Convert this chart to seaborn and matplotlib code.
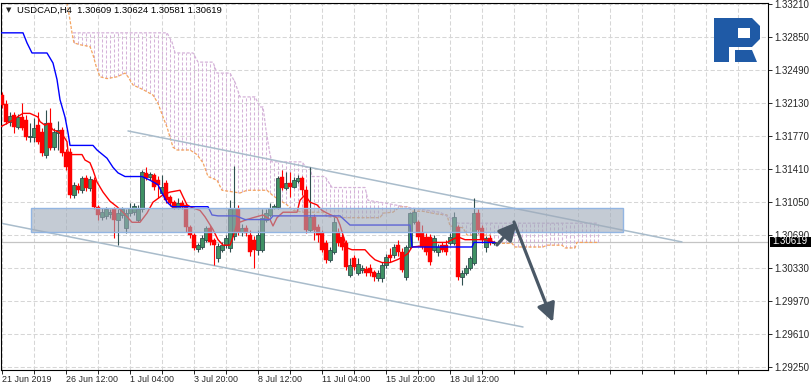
import numpy as np
import pandas as pd
import matplotlib
matplotlib.use("Agg")
import matplotlib.pyplot as plt
import matplotlib.transforms as mtransforms
from matplotlib.patches import Rectangle, Polygon, FancyArrowPatch
from matplotlib.ticker import MultipleLocator
import seaborn as sns

sns.set_style("white")
plt.rcParams["font.family"] = ["Liberation Sans", "DejaVu Sans"]
plt.rcParams["lines.scale_dashes"] = False

# ---------------- data ----------------
opens = [1.3222, 1.3212, 1.3193, 1.3200, 1.3187, 1.3198, 1.3195, 1.3176, 1.3176, 1.3189,
         1.3182, 1.3157, 1.3192, 1.3165, 1.3181, 1.3184, 1.3160, 1.3160, 1.3113, 1.3123,
         1.3118, 1.3131, 1.3121, 1.3129, 1.3100, 1.3089, 1.3090, 1.3092, 1.3097, 1.3086,
         1.3091, 1.3077, 1.3093, 1.3094, 1.3086, 1.3097, 1.3137, 1.3133, 1.3135, 1.3129,
         1.3115, 1.3126, 1.3111, 1.3105, 1.3099, 1.3104, 1.3102, 1.3078, 1.3069, 1.3054,
         1.3056, 1.3064, 1.3077, 1.3064, 1.3044, 1.3053, 1.3058, 1.3055, 1.3068, 1.3097,
         1.3072, 1.3077, 1.3069, 1.3064, 1.3053, 1.3053, 1.3086, 1.3091, 1.3099, 1.3100,
         1.3133, 1.3121, 1.3126, 1.3122, 1.3128, 1.3131, 1.3118, 1.3075, 1.3089, 1.3078,
         1.3071, 1.3060, 1.3042, 1.3051, 1.3072, 1.3067, 1.3060, 1.3025, 1.3044, 1.3028,
         1.3031, 1.3032, 1.3033, 1.3029, 1.3022, 1.3022, 1.3036, 1.3047, 1.3047, 1.3058,
         1.3051, 1.3023, 1.3056, 1.3083, 1.3083, 1.3071, 1.3067, 1.3067, 1.3053, 1.3050,
         1.3058, 1.3058, 1.3060, 1.3060, 1.3078, 1.3023, 1.3028, 1.3033, 1.3039, 1.3093,
         1.3077, 1.3056, 1.3066, 1.30609]
highs = [1.3225, 1.3217, 1.3204, 1.3204, 1.3201, 1.3213, 1.3200, 1.3192, 1.3197, 1.3204,
         1.3186, 1.3206, 1.3208, 1.3186, 1.3194, 1.3187, 1.3163, 1.3164, 1.3127, 1.3126,
         1.3134, 1.3135, 1.3134, 1.3133, 1.3102, 1.3099, 1.3100, 1.3098, 1.3100, 1.3097,
         1.3100, 1.3097, 1.3104, 1.3104, 1.3102, 1.3140, 1.3143, 1.3138, 1.3137, 1.3134,
         1.3135, 1.3129, 1.3113, 1.3107, 1.3110, 1.3107, 1.3104, 1.3080, 1.3071, 1.3060,
         1.3069, 1.3079, 1.3080, 1.3066, 1.3060, 1.3062, 1.3069, 1.3107, 1.3145, 1.3102,
         1.3081, 1.3080, 1.3075, 1.3068, 1.3075, 1.3097, 1.3097, 1.3104, 1.3103, 1.3134,
         1.3140, 1.3138, 1.3138, 1.3133, 1.3135, 1.3134, 1.3123, 1.3143, 1.3092, 1.3081,
         1.3075, 1.3064, 1.3056, 1.3089, 1.3077, 1.3070, 1.3064, 1.3044, 1.3047, 1.3044,
         1.3036, 1.3035, 1.3037, 1.3031, 1.3031, 1.3040, 1.3048, 1.3055, 1.3059, 1.3064,
         1.3055, 1.3058, 1.3094, 1.3099, 1.3086, 1.3080, 1.3071, 1.3070, 1.3069, 1.3059,
         1.3062, 1.3064, 1.3071, 1.3094, 1.3080, 1.3031, 1.3036, 1.3046, 1.3110, 1.3097,
         1.3080, 1.3068, 1.3069, 1.30624]
lows = [1.3208, 1.3190, 1.3188, 1.3181, 1.3185, 1.3184, 1.3173, 1.3171, 1.3171, 1.3169,
        1.3155, 1.3153, 1.3162, 1.3162, 1.3162, 1.3155, 1.3140, 1.3110, 1.3110, 1.3115,
        1.3115, 1.3117, 1.3117, 1.3097, 1.3086, 1.3086, 1.3087, 1.3088, 1.3066, 1.3058,
        1.3088, 1.3071, 1.3090, 1.3091, 1.3083, 1.3094, 1.3129, 1.3129, 1.3118, 1.3110,
        1.3113, 1.3104, 1.3101, 1.3097, 1.3097, 1.3097, 1.3072, 1.3066, 1.3053, 1.3051,
        1.3054, 1.3062, 1.3058, 1.3036, 1.3040, 1.3051, 1.3055, 1.3051, 1.3064, 1.3069,
        1.3068, 1.3068, 1.3046, 1.3033, 1.3047, 1.3051, 1.3083, 1.3089, 1.3097, 1.3098,
        1.3118, 1.3118, 1.3111, 1.3120, 1.3126, 1.3113, 1.3071, 1.3072, 1.3064, 1.3062,
        1.3050, 1.3039, 1.3040, 1.3048, 1.3057, 1.3053, 1.3031, 1.3023, 1.3031, 1.3025,
        1.3028, 1.3024, 1.3024, 1.3019, 1.3019, 1.3018, 1.3033, 1.3040, 1.3044, 1.3046,
        1.3029, 1.3020, 1.3054, 1.3081, 1.3064, 1.3054, 1.3047, 1.3036, 1.3051, 1.3046,
        1.3050, 1.3047, 1.3058, 1.3058, 1.3020, 1.3015, 1.3025, 1.3031, 1.3036, 1.3071,
        1.3060, 1.3051, 1.3058, 1.30581]
closes = [1.3211, 1.3193, 1.3199, 1.3187, 1.3198, 1.3186, 1.3176, 1.3177, 1.3186, 1.3171,
          1.3159, 1.3192, 1.3164, 1.3182, 1.3184, 1.3159, 1.3143, 1.3113, 1.3124, 1.3118,
          1.3131, 1.3121, 1.3130, 1.3100, 1.3091, 1.3094, 1.3097, 1.3094, 1.3086, 1.3093,
          1.3097, 1.3093, 1.3099, 1.3101, 1.3097, 1.3138, 1.3131, 1.3136, 1.3122, 1.3124,
          1.3122, 1.3107, 1.3104, 1.3099, 1.3104, 1.3100, 1.3078, 1.3069, 1.3055, 1.3058,
          1.3066, 1.3077, 1.3062, 1.3058, 1.3057, 1.3058, 1.3066, 1.3097, 1.3099, 1.3072,
          1.3077, 1.3071, 1.3050, 1.3053, 1.3069, 1.3088, 1.3093, 1.3099, 1.3101, 1.3131,
          1.3121, 1.3126, 1.3122, 1.3129, 1.3131, 1.3118, 1.3075, 1.3089, 1.3075, 1.3069,
          1.3053, 1.3042, 1.3053, 1.3083, 1.3060, 1.3056, 1.3034, 1.3036, 1.3034, 1.3037,
          1.3033, 1.3028, 1.3028, 1.3023, 1.3028, 1.3036, 1.3045, 1.3044, 1.3056, 1.3051,
          1.3031, 1.3056, 1.3093, 1.3094, 1.3067, 1.3056, 1.3051, 1.3040, 1.3066, 1.3056,
          1.3053, 1.3050, 1.3067, 1.3089, 1.3023, 1.3028, 1.3033, 1.3044, 1.3093, 1.3075,
          1.3064, 1.3066, 1.3060, 1.30619]

# Ichimoku lines (bar index, price) read at their break points
tenkan_x = [-0.5, 1.25, 2.75, 4.5, 5.25, 7, 9, 9.5, 10.75, 11.5, 12.75, 14, 15.25, 16.25, 16.5,
            17.5, 20, 20.75, 22, 22.75, 23.75, 25.25, 27, 28.75, 30.25, 32.5, 34.5, 36.25, 37.75,
            40.25, 42, 44.5, 45.25, 46.25, 47.5, 49.5, 50.75, 52.75, 54, 55.25, 57, 57.75, 58.75,
            61.25, 62.75, 65.25, 67, 67.75, 68.75, 70.25, 73.75, 74.5, 75.75, 77, 78.75, 80,
            81.25, 83.75, 84.5, 85.25, 86.25, 87.5, 90.75, 92, 93.25, 95, 97, 98.75, 100.25,
            101.5, 102.5, 107, 107.75, 111.25, 112.5, 114, 115.75, 120.75, 123.25]
tenkan_y = [1.3187, 1.3191, 1.3195, 1.3200, 1.3202, 1.3202, 1.3198, 1.3193, 1.3189, 1.3191,
            1.3184, 1.3182, 1.3178, 1.3171, 1.3160, 1.3157, 1.3157, 1.3151, 1.3148, 1.3140,
            1.3127, 1.3116, 1.3106, 1.3100, 1.3094, 1.3083, 1.3083, 1.3093, 1.3105, 1.3113,
            1.3116, 1.3118, 1.3111, 1.3102, 1.3099, 1.3096, 1.3089, 1.3075, 1.3064, 1.3058,
            1.3058, 1.3067, 1.3082, 1.3086, 1.3088, 1.3091, 1.3086, 1.3079, 1.3088, 1.3094,
            1.3094, 1.3107, 1.3113, 1.3105, 1.3102, 1.3096, 1.3093, 1.3088, 1.3080, 1.3069,
            1.3055, 1.3053, 1.3053, 1.3047, 1.3042, 1.3039, 1.3039, 1.3042, 1.3045, 1.3049,
            1.3056, 1.3058, 1.3061, 1.3061, 1.3064, 1.3067, 1.3064, 1.3064, 1.3061]
kijun_x = [-0.5, 5.25, 6.25, 7.5, 11.25, 12.75, 13.75, 14.5, 15.75, 16.5, 17, 22.75, 23.75,
           26.25, 27.75, 29, 30.75, 35, 37, 39, 40.25, 41.25, 42.5, 51.5, 52.5, 54, 58.5,
           60.75, 67, 67.75, 84.5, 87, 102, 102.5, 117.5, 118, 123.25]
kijun_y = [1.3290, 1.3290, 1.3279, 1.3268, 1.3268, 1.3257, 1.3239, 1.3217, 1.3198, 1.3181,
           1.3167, 1.3167, 1.3162, 1.3153, 1.3143, 1.3137, 1.3133, 1.3133, 1.3129, 1.3124,
           1.3113, 1.3105, 1.3100, 1.3100, 1.3091, 1.3090, 1.3090, 1.3086, 1.3086, 1.3090,
           1.3090, 1.3080, 1.3080, 1.3056, 1.3056, 1.3061, 1.3061]
span_a_x = [16.25, 17, 17.5, 18, 19.5, 22, 22.75, 23.5, 24.5, 26.25, 28.75, 30.75, 31.5, 32.75,
            35.25, 37.75, 39, 40.25, 41.25, 42, 42.75, 43.75, 47, 48.75, 50.25, 51.5, 53.75, 55,
            59.5, 61.25, 66.25, 67.75, 69.5, 71.25, 72.75, 75.25, 80.25, 81.25, 86.25, 94.5,
            95.25, 97.75, 99.5, 101.25, 102.75, 105.25, 108.75, 111.25, 112, 115.25, 116.25,
            122, 122.75, 127.5, 128.25, 135.25, 136.25, 140, 140.75, 143.25, 143.75, 149]
span_a_y = [1.3323, 1.3304, 1.3290, 1.3279, 1.3277, 1.3275, 1.3266, 1.3254, 1.3242, 1.3240,
            1.3242, 1.3246, 1.3242, 1.3233, 1.3228, 1.3222, 1.3213, 1.3198, 1.3187, 1.3176,
            1.3165, 1.3162, 1.3162, 1.3157, 1.3148, 1.3133, 1.3129, 1.3118, 1.3115, 1.3118,
            1.3118, 1.3112, 1.3107, 1.3102, 1.3096, 1.3094, 1.3094, 1.3089, 1.3088, 1.3088,
            1.3093, 1.3094, 1.3100, 1.3100, 1.3095, 1.3095, 1.3092, 1.3091, 1.3079, 1.3077,
            1.3069, 1.3069, 1.3060, 1.3060, 1.3056, 1.3056, 1.3058, 1.3058, 1.3055, 1.3055,
            1.3061, 1.3061]
span_b_x = [17.75, 41.25, 42.5, 43.25, 47.75, 49, 52.75, 53.75, 57, 58.25, 59.5, 63.25, 64.5,
            65.25, 66, 67, 67.5, 75, 76, 77, 77.5, 80.75, 82.5, 90.75, 91.5, 95.75, 102,
            109.5, 112, 114, 149]
span_b_y = [1.3290, 1.3290, 1.3280, 1.3268, 1.3268, 1.3258, 1.3258, 1.3246, 1.3246, 1.3236,
            1.3220, 1.3220, 1.3209, 1.3209, 1.3184, 1.3157, 1.3149, 1.3149, 1.3143, 1.3143,
            1.3133, 1.3133, 1.3121, 1.3121, 1.3107, 1.3104, 1.3099, 1.3094, 1.3088, 1.3082,
            1.3082]

x_labels = ["21 Jun 2019", "26 Jun 12:00", "1 Jul 04:00", "3 Jul 20:00",
            "8 Jul 12:00", "11 Jul 04:00", "15 Jul 20:00", "18 Jul 12:00"]
y_ticks = [1.33210, 1.32850, 1.32490, 1.32130, 1.31770, 1.31410,
           1.31050, 1.30690, 1.30330, 1.29970, 1.29610, 1.29250]
last_price = 1.30619
title_text = "USDCAD,H4  1.30609 1.30624 1.30581 1.30619"

# drawn objects
channel_upper = ([31.5, 170], [1.31828, 1.30615])
channel_lower = ([-0.5, 130.25], [1.30822, 1.29686])
zone = (7.25, 155.25, 1.30724, 1.30986)
arrow1 = ((123.75, 1.30582), (128.75, 1.30833))
arrow2 = ((128.0, 1.30833), (137.75, 1.29741))

# ---------------- figure ----------------
W, H = 812, 387
fig = plt.figure(figsize=(W / 100, H / 100), dpi=100)
fig.patch.set_facecolor("white")
ax = fig.add_axes([1 / W, 17 / H, 767 / W, 367 / H])
ax.set_facecolor("white")
ax.set_xlim(-0.25, 191.5)
ax.set_ylim(1.29216, 1.33226)

grid_kw = dict(color="#d6d6d6", lw=0.75, ls=(0, (3.0, 1.6)))
ax.set_xticks(np.arange(0, 16 * len(x_labels), 16))
ax.set_xticklabels(x_labels, ha="left", fontsize=6.4)
ax.xaxis.set_minor_locator(MultipleLocator(8))
ax.grid(True, which="both", axis="x", **grid_kw)
ax.yaxis.tick_right()
ax.set_yticks(y_ticks)
ax.set_yticklabels([f"{v:.5f}" for v in y_ticks], fontsize=7)
ax.grid(True, which="major", axis="y", **grid_kw)
ax.set_axisbelow(True)
ax.tick_params(axis="y", which="major", length=3, width=0.7, pad=1.5, direction="out", right=True, left=False)
ax.tick_params(axis="x", which="both", length=3, width=0.7, pad=0.8, direction="out", bottom=True)
for s in ax.spines.values():
    s.set_color("black")
    s.set_linewidth(0.8)

# price line
ax.axhline(last_price, color="#c4c4c4", lw=0.9, zorder=1)

# Ichimoku cloud hatch
hx = np.arange(18, 150)
ha_ = np.interp(hx, span_a_x, span_a_y)
hb_ = np.interp(hx, span_b_x, span_b_y)
cols = np.where(hb_ >= ha_, "#d5b3d9", "#f2b98a")
ax.vlines(hx, np.minimum(ha_, hb_), np.maximum(ha_, hb_), colors=cols,
          linestyles=(0, (2.2, 1.4)), lw=0.75, zorder=1.5)
ax.plot(span_a_x, span_a_y, color="#f4a460", lw=0.9, ls=(0, (2.2, 1.2)), zorder=2)
ax.plot(span_b_x, span_b_y, color="#d5b3d9", lw=0.9, ls=(0, (2.2, 1.2)), zorder=2)

# channel
ax.plot(*channel_upper, color="#a9bccb", lw=1.1, zorder=2.2)
ax.plot(*channel_lower, color="#a9bccb", lw=1.1, zorder=2.2)

# candles
df = pd.DataFrame({"open": opens, "high": highs, "low": lows, "close": closes})
df["idx"] = np.arange(len(df))
up = df["close"] >= df["open"]
dn = ~up
ax.vlines(df.idx[up], df.low[up], df.high[up], color="#2f4f4f", lw=0.8, zorder=3)
ax.vlines(df.idx[dn], df.low[dn], df.high[dn], color="#ff0000", lw=0.8, zorder=3)
minh = 0.00002
ax.bar(df.idx[up], np.maximum((df.close - df.open)[up], minh), bottom=df.open[up], width=0.78,
       color="#3f9164", edgecolor="#2f4f4f", lw=0.6, zorder=3.5)
ax.bar(df.idx[dn], np.maximum((df.open - df.close)[dn], minh), bottom=df.close[dn], width=0.78,
       color="#ff0000", edgecolor="#ff0000", lw=0.3, zorder=3.5)

# tenkan / kijun
sns.lineplot(x=tenkan_x, y=tenkan_y, ax=ax, color="#ff0000", lw=1.0, estimator=None, sort=False, zorder=4)
sns.lineplot(x=kijun_x, y=kijun_y, ax=ax, color="#0000ff", lw=1.0, estimator=None, sort=False, zorder=4)

# zone rectangle
x0, x1, y0, y1 = zone
ax.add_patch(Rectangle((x0, y0), x1 - x0, y1 - y0, facecolor="#9ea9b8", alpha=0.6, lw=0, zorder=5))
ax.add_patch(Rectangle((x0, y0), x1 - x0, y1 - y0, fill=False, edgecolor="#92b5e2", lw=1.0, zorder=5.1))

# arrows
for (pa, pb) in (arrow1, arrow2):
    ax.add_patch(FancyArrowPatch(pa, pb, arrowstyle="-|>,head_length=1.1,head_width=0.55",
                                 mutation_scale=10, lw=2.3, color="#4a5866",
                                 shrinkA=0, shrinkB=0, zorder=6))

ax.set_xlabel("")
ax.set_ylabel("")

# pixel transform (origin top-left)
pix = mtransforms.Affine2D().scale(1 / W, -1 / H).translate(0, 1) + fig.transFigure

# title
fig.text(9, 10, "\u25bc", transform=pix, fontsize=5, family="DejaVu Sans", ha="center", va="center")
fig.text(17, 10, title_text, transform=pix, fontsize=6.8, ha="left", va="center", color="black")

# last price label
fig.add_artist(Rectangle((770, 246.5), 41, -10, transform=pix, facecolor="black", edgecolor="none", zorder=5))
fig.text(772, 241.5, f"{last_price:.5f}", transform=pix, fontsize=7, color="white", ha="left", va="center", zorder=6)

# logo
logo_col = "#1f5aa6"
fig.add_artist(Polygon([(714, 18), (752, 18), (760, 26), (760, 39), (752, 47), (729, 47),
                        (729, 62), (714, 62)], closed=True, transform=pix, facecolor=logo_col,
                       edgecolor="none", zorder=5))
fig.add_artist(Rectangle((738, 28), 12, 10, transform=pix, facecolor="white", edgecolor="none", zorder=5.1))
fig.add_artist(Polygon([(735, 50), (752, 50), (757, 62), (735, 62)], closed=True, transform=pix,
                       facecolor=logo_col, edgecolor="none", zorder=5))

fig.savefig("out.png", dpi=100)
